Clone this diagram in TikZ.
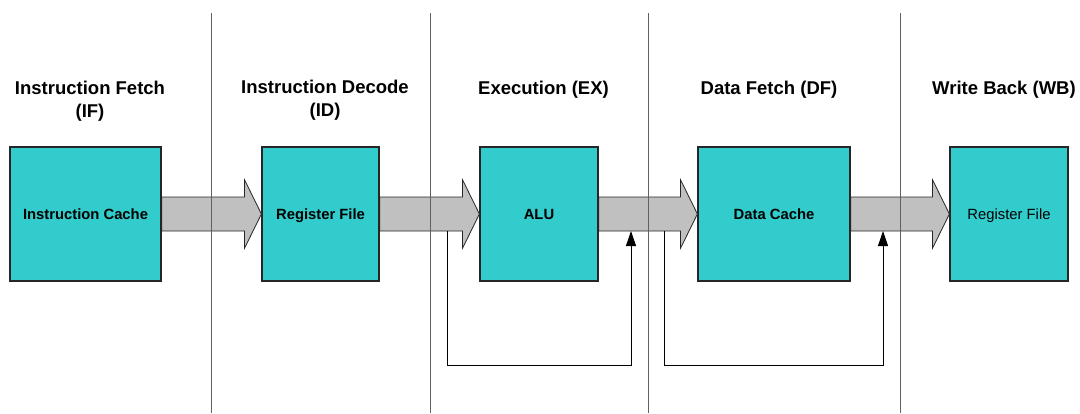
\documentclass[tikz,border=0pt]{standalone}
\usepackage{fontspec}
\setmainfont{Liberation Sans}
\usetikzlibrary{arrows.meta,calc}

\definecolor{stagefill}{HTML}{33CCCC}
\definecolor{pipefill}{HTML}{C0C0C0}
\definecolor{divider}{HTML}{606060}

\tikzset{
  stagebox/.style={draw=black!85, line width=1.2pt, fill=stagefill, minimum height=134pt,
                   inner sep=0pt, text height=10.6pt, text depth=0pt,
                   font=\fontsize{14.8}{17}\selectfont\bfseries},
  title/.style={align=center, font=\fontsize{18.5}{23}\selectfont\bfseries, inner sep=0pt},
  pipe/.style={draw=black!85, line width=0.8pt, fill=pipefill, line join=miter},
  divline/.style={draw=divider, line width=1pt},
  loopline/.style={draw=black, line width=0.9pt},
}

\begin{document}
\begin{tikzpicture}[x=1pt,y=-1pt]
\useasboundingbox (0,0) rectangle (1080,413);

% stage titles
\node[title] (tIF) at (90,101.5) {Instruction Fetch\\(IF)};
\node[title] (tID) at (325,100.5) {Instruction Decode\\(ID)};
\node[title] (tEX) at (543.5,90) {Execution (EX)};
\node[title] (tDF) at (769,90) {Data Fetch (DF)};
\node[title] (tWB) at (1004,90) {Write Back (WB)};

% pipeline hardware
\node[stagebox, minimum width=151pt] (ic)  at (85.5,214) {Instruction Cache};
\node[stagebox, minimum width=117pt] (rf)  at (320.5,214) {Register File};
\node[stagebox, minimum width=118pt] (alu) at (539,214) {ALU};
\node[stagebox, minimum width=152pt] (dc)  at (774,214) {Data Cache};
\node[stagebox, minimum width=118pt, font=\fontsize{14.8}{17}\selectfont] (wb) at (1009,214) {Register File};

% wide data-flow arrows between stages
\foreach \a/\b in {ic/rf, rf/alu, alu/dc, dc/wb}{
  \draw[pipe] let \p1=(\a.east), \p2=(\b.west) in
    (\x1,\y1+17) -- (\x2-17,\y1+17) -- (\x2-17,\y1+34.5) -- (\x2,\y2)
    -- (\x2-17,\y1-34.5) -- (\x2-17,\y1-17) -- (\x1,\y1-17) -- cycle;
}

% stage boundaries
\foreach \x/\n in {211/a, 430/b, 648/c, 900/d}{
  \coordinate (top\n) at (\x,13);
  \coordinate (bot\n) at (\x,413);
  \draw[divline] (top\n) -- (bot\n);
}

% forwarding paths
\coordinate (fa1) at (447,231);
\coordinate (fa2) at (631,231);
\coordinate (fb1) at (664,231);
\coordinate (fb2) at (883,231);
\draw[loopline, -{Triangle[length=15pt,width=10pt]}]
  (fa1) -- ($(fa1)+(0,134)$) -| (fa2);
\draw[loopline, -{Triangle[length=15pt,width=10pt]}]
  (fb1) -- ($(fb1)+(0,134)$) -| (fb2);
\end{tikzpicture}
\end{document}
